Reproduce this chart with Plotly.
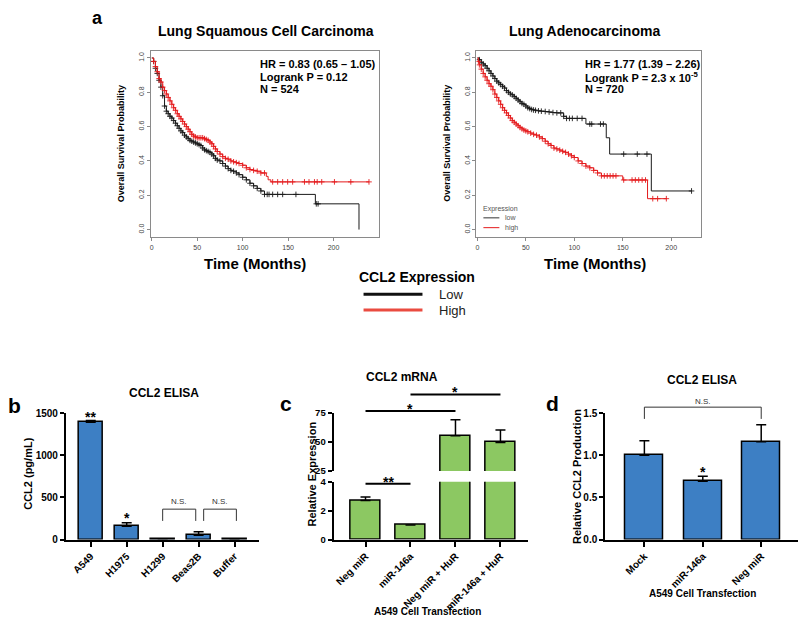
import numpy as np
import plotly.graph_objects as go

W, H = 800, 625
FONT = "Liberation Sans, Arial, Helvetica, sans-serif"

# ---------------- Kaplan-Meier data ----------------
lusc_low_t = [0, 2, 4, 6, 8, 10, 12, 14, 16, 18, 20, 22, 24, 26, 28, 30, 32, 34, 36, 38,
              40, 42, 44, 46, 48, 50, 52, 54, 56, 58, 60, 62, 64, 66, 68, 70, 72, 75, 78, 81,
              84, 87, 90, 93, 96, 100, 104, 108, 112, 116, 120, 124, 180, 228]
lusc_low_s = [1.0, 0.98, 0.94, 0.91, 0.87, 0.83, 0.78, 0.72, 0.69, 0.675, 0.66, 0.65, 0.635, 0.62,
              0.605, 0.59, 0.575, 0.565, 0.55, 0.54, 0.53, 0.52, 0.515, 0.51, 0.505, 0.50, 0.495,
              0.49, 0.475, 0.465, 0.46, 0.455, 0.45, 0.44, 0.43, 0.415, 0.405, 0.40, 0.385, 0.37,
              0.355, 0.345, 0.34, 0.33, 0.32, 0.305, 0.29, 0.27, 0.255, 0.24, 0.225, 0.205, 0.15, 0.0]
lusc_low_cens = [127, 129, 133, 138.5, 144, 158.6, 181, 183]

lusc_high_t = [0, 2, 4, 6, 8, 10, 12, 14, 16, 18, 20, 22, 24, 26, 28, 30, 32, 34, 36, 38,
               40, 42, 44, 46, 48, 50, 52, 54, 56, 58, 60, 62, 64, 66, 68, 70, 72, 75, 78, 81,
               84, 87, 90, 93, 96, 100, 104, 108, 112, 116, 120, 124, 126, 128, 131, 239]
lusc_high_s = [1.0, 0.98, 0.95, 0.92, 0.88, 0.86, 0.83, 0.81, 0.79, 0.77, 0.75, 0.73, 0.71, 0.695,
               0.675, 0.66, 0.645, 0.63, 0.615, 0.60, 0.585, 0.57, 0.555, 0.545, 0.54, 0.535, 0.535,
               0.535, 0.535, 0.53, 0.525, 0.52, 0.51, 0.50, 0.485, 0.47, 0.455, 0.44, 0.425, 0.415,
               0.41, 0.40, 0.395, 0.39, 0.385, 0.375, 0.36, 0.35, 0.345, 0.34, 0.33, 0.33, 0.31,
               0.29, 0.278, 0.278]
lusc_high_cens = [133, 138.5, 144, 149.5, 155, 168, 173, 179, 182, 187, 201, 219, 239]

luad_low_t = [0, 2, 4, 6, 8, 10, 12, 14, 16, 18, 20, 22, 24, 26, 28, 30, 32, 34, 36, 38,
              40, 42, 44, 46, 48, 50, 52, 54, 56, 58, 60, 63, 66, 70, 74, 78, 82, 86, 89, 92,
              112, 133, 136.5, 179.5, 221]
luad_low_s = [1.0, 0.99, 0.975, 0.965, 0.955, 0.94, 0.925, 0.91, 0.895, 0.88, 0.865, 0.855, 0.845,
              0.835, 0.825, 0.81, 0.80, 0.79, 0.785, 0.775, 0.765, 0.755, 0.745, 0.735, 0.73, 0.72,
              0.71, 0.705, 0.70, 0.697, 0.695, 0.692, 0.69, 0.688, 0.685, 0.682, 0.68, 0.68, 0.66,
              0.648, 0.615, 0.535, 0.44, 0.225, 0.225]
luad_low_cens = [95, 98, 103, 108, 116, 118, 127, 130, 151, 165, 175, 221]

luad_high_t = [0, 1, 2, 4, 6, 8, 10, 12, 14, 16, 18, 20, 22, 24, 26, 28, 30, 32, 34, 36, 38,
               40, 42, 44, 46, 48, 50, 52, 55, 58, 61, 64, 67, 70, 73, 76, 79, 82, 85, 88, 91,
               94, 97, 100, 104, 108, 112, 116, 120, 124, 128, 150, 175.6, 195]
luad_high_s = [1.0, 0.98, 0.96, 0.935, 0.91, 0.89, 0.87, 0.85, 0.835, 0.815, 0.79, 0.77, 0.75,
               0.73, 0.71, 0.695, 0.68, 0.665, 0.65, 0.635, 0.625, 0.615, 0.605, 0.595, 0.587,
               0.58, 0.575, 0.57, 0.562, 0.555, 0.55, 0.54, 0.53, 0.515, 0.50, 0.49, 0.475, 0.47,
               0.463, 0.456, 0.45, 0.44, 0.43, 0.42, 0.40, 0.385, 0.37, 0.36, 0.345, 0.33, 0.313,
               0.289, 0.18, 0.18]
luad_high_cens = [131, 134, 137, 140, 143, 151, 159.6, 163, 166.5, 170, 173.5, 181, 186, 195]

km_ticks_x = [0, 50, 100, 150, 200]
km_ticks_y = [0, 0.2, 0.4, 0.6, 0.8, 1.0]

# ---------------- Bar panel data ----------------
b_cats = ["A549", "H1975", "H1299", "Beas2B", "Buffer"]
b_vals = [1390, 157, 9, 50, 7]
b_err = [22, 42, 0, 42, 0]

c_cats = ["Neg miR", "miR-146a", "Neg miR + HuR", "miR-146a + HuR"]
c_vals = [2.7, 1.0, 55.3, 49.6]
c_err_low = [0.25, 0, 0, 0]
c_err_high = [0, 0, 14, 10.7]

d_cats = ["Mock", "miR-146a", "Neg miR"]
d_vals = [1.0, 0.69, 1.16]
d_err = [0.17, 0.06, 0.2]

BLACK = "#1a1a1a"
RED = "#e41a1c"
BLUE = "#3d7fc4"
GREEN = "#8cc862"


def X(px):
    return px / W


def Y(py):
    return 1 - py / H


def step_at(ts, ss, q):
    ts = np.asarray(ts, dtype=float)
    ss = np.asarray(ss, dtype=float)
    idx = np.searchsorted(ts, np.asarray(q, dtype=float), side="right") - 1
    return ss[np.clip(idx, 0, len(ss) - 1)]


fig = go.Figure()


def km(t, s, cens, color, xa, ya, tdense):
    fig.add_trace(go.Scatter(x=t, y=s, mode="lines", line=dict(color=color, width=1, shape="hv"),
                             xaxis=xa, yaxis=ya, showlegend=False, hoverinfo="skip"))
    ct = [tt for tt in t if 0 < tt < tdense] + list(cens)
    cs = step_at(t, s, ct)
    fig.add_trace(go.Scatter(x=ct, y=cs, mode="markers",
                             marker=dict(symbol="cross-thin", size=4, line=dict(width=0.9, color=color)),
                             xaxis=xa, yaxis=ya, showlegend=False, hoverinfo="skip"))


km(lusc_low_t, lusc_low_s, lusc_low_cens, BLACK, "x", "y", 125)
km(lusc_high_t, lusc_high_s, lusc_high_cens, RED, "x", "y", 125)
km(luad_low_t, luad_low_s, luad_low_cens, BLACK, "x2", "y2", 93)
km(luad_high_t, luad_high_s, luad_high_cens, RED, "x2", "y2", 129)

# ---------------- Bars ----------------
def errbar(arr):
    return dict(type="data", symmetric=False, array=arr, arrayminus=[0] * len(arr),
                color="black", thickness=1.5, width=5)


fig.add_trace(go.Bar(x=list(range(len(b_cats))), y=b_vals, width=0.67,
                     marker=dict(color=BLUE, line=dict(color="black", width=1.5)),
                     error_y=errbar(b_err), xaxis="x3", yaxis="y3", showlegend=False))
fig.add_trace(go.Bar(x=list(range(len(c_cats))), y=c_vals, width=0.67,
                     marker=dict(color=GREEN, line=dict(color="black", width=1.5)),
                     error_y=errbar(c_err_low), xaxis="x4", yaxis="y4", showlegend=False))
fig.add_trace(go.Bar(x=list(range(len(c_cats))), y=c_vals, width=0.67,
                     marker=dict(color=GREEN, line=dict(color="black", width=1.5)),
                     error_y=errbar(c_err_high), xaxis="x4", yaxis="y5", showlegend=False))
fig.add_trace(go.Bar(x=list(range(len(d_cats))), y=d_vals, width=0.65,
                     marker=dict(color=BLUE, line=dict(color="black", width=1.5)),
                     error_y=errbar(d_err), xaxis="x6", yaxis="y6", showlegend=False))

# ---------------- Axes ----------------
km_ax = dict(showline=True, mirror=True, linecolor="#8a8a8a", linewidth=1, ticks="outside",
             ticklen=3, tickcolor="#8a8a8a", tickfont=dict(size=7, color="#444"),
             showgrid=False, zeroline=False)


def bar_ax(size=10, ticklen=5):
    return dict(showline=True, linecolor="black", linewidth=2, ticks="outside", ticklen=ticklen,
                tickwidth=2, tickcolor="black", tickfont=dict(size=size, color="black", weight="bold"),
                showgrid=False, zeroline=False)


fig.update_layout(
    xaxis=dict(domain=[X(150), X(378)], range=[-1.1, 249.5], tickvals=km_ticks_x, anchor="y", **km_ax),
    yaxis=dict(domain=[Y(236), Y(46)], range=[-0.046, 1.04], tickvals=km_ticks_y, tickformat=".1f",
               tickangle=-90, anchor="x", **km_ax),
    xaxis2=dict(domain=[X(476), X(701)], range=[-1.03, 230.9], tickvals=km_ticks_x, anchor="y2", **km_ax),
    yaxis2=dict(domain=[Y(236), Y(46)], range=[-0.046, 1.04], tickvals=km_ticks_y, tickformat=".1f",
                tickangle=-90, anchor="x2", **km_ax),
    xaxis3=dict(domain=[X(65), X(258)], range=[-0.69, 4.67], tickvals=list(range(len(b_cats))),
                ticktext=b_cats, tickangle=-45, anchor="y3", **bar_ax()),
    yaxis3=dict(domain=[Y(544), Y(415)], range=[0, 1500], tickvals=[0, 500, 1000, 1500], anchor="x3",
                **bar_ax(10, 4)),
    xaxis4=dict(domain=[X(333), X(528)], range=[-0.71, 3.62], tickvals=list(range(len(c_cats))),
                ticktext=c_cats, tickangle=-45, anchor="y4", **bar_ax(10, 5)),
    yaxis4=dict(domain=[Y(544), Y(485)], range=[0, 4], tickvals=[0, 2, 4], anchor="x4", **bar_ax(9.5, 4)),
    yaxis5=dict(domain=[Y(474), Y(415)], range=[25, 75], tickvals=[25, 50, 75], anchor="x4", **bar_ax(9.5, 4)),
    xaxis6=dict(domain=[X(605), X(798)], range=[-0.67, 2.63], tickvals=list(range(len(d_cats))),
                ticktext=d_cats, tickangle=-45, anchor="y6", **bar_ax()),
    yaxis6=dict(domain=[Y(544), Y(415)], range=[0, 1.5], tickvals=[0, 0.5, 1.0, 1.5], tickformat=".1f",
                anchor="x6", **bar_ax(10, 4)),
)

# ---------------- Text ----------------
anns = []


def T(text, x, y, size, xanchor="center", yanchor="middle", angle=0, color="black", xref="paper"):
    anns.append(dict(text=text, x=(X(x) if xref == "paper" else x), y=Y(y), xref=xref, yref="paper",
                     xanchor=xanchor, yanchor=yanchor, textangle=angle, showarrow=False,
                     font=dict(size=size, color=color, family=FONT)))


# panel a
T("<b>a</b>", 97, 12, 18)
T("<b>Lung Squamous Cell Carcinoma</b>", 265, 25, 14)
T("<b>Lung Adenocarcinoma</b>", 584, 25, 14)
for i, line in enumerate(["HR = 0.83 (0.65 – 1.05)", "Logrank P = 0.12", "N = 524"]):
    T("<b>" + line + "</b>", 257, 59 + 13 * i, 11, xanchor="left")
for i, line in enumerate(["HR = 1.77 (1.39 – 2.26)", "Logrank P = 2.3 x 10<sup>-5</sup>", "N = 720"]):
    T("<b>" + line + "</b>", 583, 59 + 13 * i, 11, xanchor="left")
T("<b>Overall Survival Probability</b>", 120, 140, 9, angle=-90)
T("<b>Overall Survival Probability</b>", 447, 140, 9, angle=-90)
T("<b>Time (Months)</b>", 254, 263, 15)
T("<b>Time (Months)</b>", 595, 263, 15)
# inner legend (right KM)
T("Expression", 481, 207, 7, xanchor="left", color="#555")
T("low", 503, 216, 7, xanchor="left", color="#555")
T("high", 503, 226, 7, xanchor="left", color="#555")
# main legend
T("<b>CCL2 Expression</b>", 417, 276, 14)
T("Low", 437, 294, 13, xanchor="left", color="#222")
T("High", 437, 310, 13, xanchor="left", color="#222")

# panel b
T("<b>b</b>", 14, 407, 21)
T("<b>CCL2 ELISA</b>", 163, 395, 12)
T("<b>CCL2 (pg/mL)</b>", 27, 477, 11, angle=-90)
T("<b>**</b>", 0, 419, 14, xref="x3")
T("<b>*</b>", 1, 522, 14, xref="x3")
T("N.S.", 2.46, 505, 8, xref="x3", color="#333")
T("N.S.", 3.6, 505, 8, xref="x3", color="#333")

# panel c
T("<b>c</b>", 285, 405, 21)
T("<b>CCL2 mRNA</b>", 402, 378, 12)
T("<b>Relative Expression</b>", 311, 477, 11, angle=-90)
T("<b>A549 Cell Transfection</b>", 427, 617, 10)
T("<b>**</b>", 0.5, 485, 14, xref="x4")
T("<b>*</b>", 1.0, 411, 14, xref="x4")
T("<b>*</b>", 2.0, 394, 14, xref="x4")

# panel d
T("<b>d</b>", 552, 405, 21)
T("<b>CCL2 ELISA</b>", 702, 381, 12)
T("<b>Relative CCL2 Production</b>", 577, 480, 11, angle=-90)
T("<b>A549 Cell Transfection</b>", 702, 599, 10)
T("N.S.", 1, 403, 8, xref="x6", color="#333")
T("<b>*</b>", 1, 475, 14, xref="x6")

# ---------------- Shapes (legend samples, significance brackets) ----------------
shapes = [
    dict(type="line", xref="paper", yref="paper", x0=X(363), x1=X(422), y0=Y(294), y1=Y(294),
         line=dict(color="#111", width=3)),
    dict(type="line", xref="paper", yref="paper", x0=X(363), x1=X(422), y0=Y(310), y1=Y(310),
         line=dict(color="#ea4b40", width=3)),
    dict(type="line", xref="paper", yref="paper", x0=X(483), x1=X(499), y0=Y(216), y1=Y(216),
         line=dict(color="#333", width=1)),
    dict(type="line", xref="paper", yref="paper", x0=X(483), x1=X(499), y0=Y(226), y1=Y(226),
         line=dict(color=RED, width=1)),
]


def bracket(xref, xa, xb, ytop, ybot, width=1, color="#333"):
    shapes.append(dict(type="path", xref=xref, yref="paper",
                       path=f"M {xa},{Y(ybot)} L {xa},{Y(ytop)} L {xb},{Y(ytop)} L {xb},{Y(ybot)}",
                       line=dict(color=color, width=width)))


def hline(xref, xa, xb, y, width=2):
    shapes.append(dict(type="line", xref=xref, yref="paper", x0=xa, x1=xb, y0=Y(y), y1=Y(y),
                       line=dict(color="black", width=width)))


bracket("x3", 2.0, 2.92, 513, 525)
bracket("x3", 3.14, 4.05, 513, 525)
hline("x4", 0, 1, 487)
hline("x4", 0, 2, 413)
hline("x4", 1, 3, 396)
bracket("x6", 0, 2, 409, 421)

fig.update_layout(
    width=W, height=H, margin=dict(l=0, r=0, t=0, b=0),
    paper_bgcolor="white", plot_bgcolor="white",
    font=dict(family=FONT, color="black"),
    showlegend=False, bargap=0,
    annotations=anns, shapes=shapes,
)

fig.write_html("out.html", config={"displayModeBar": False},
               post_script="document.body.style.margin='0px';document.body.style.overflow='hidden';")
